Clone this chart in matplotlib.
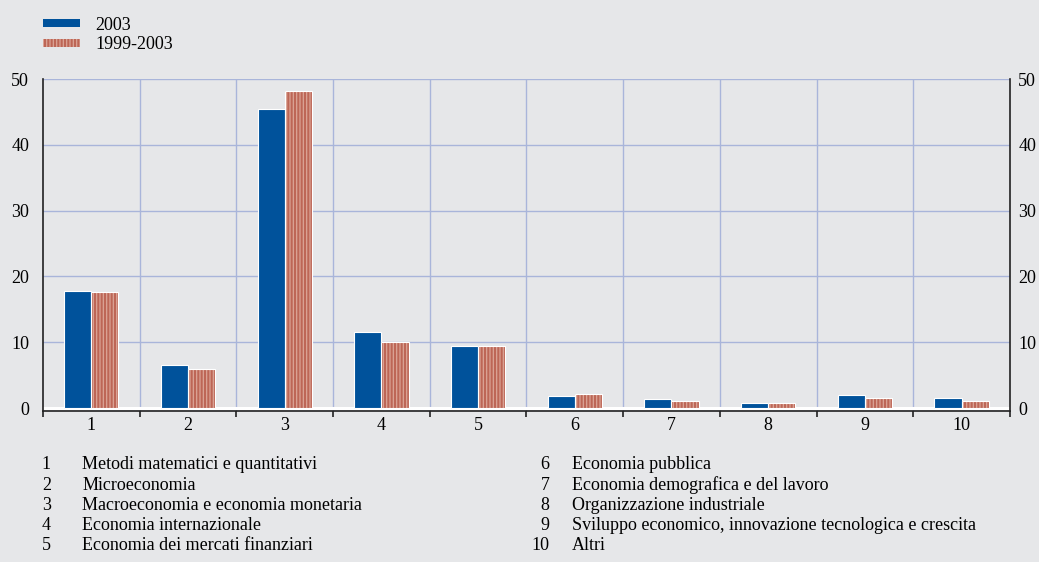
import numpy as np
import matplotlib.pyplot as plt
from matplotlib.patches import Patch

categories = [1, 2, 3, 4, 5, 6, 7, 8, 9, 10]
values_2003 = [17.8, 6.5, 45.4, 11.5, 9.4, 1.8, 1.4, 0.7, 2.0, 1.5]
values_9903 = [17.6, 5.9, 48.2, 10.0, 9.5, 2.1, 1.1, 0.8, 1.6, 1.1]
field_names = [
    "Metodi matematici e quantitativi",
    "Microeconomia",
    "Macroeconomia e economia monetaria",
    "Economia internazionale",
    "Economia dei mercati finanziari",
    "Economia pubblica",
    "Economia demografica e del lavoro",
    "Organizzazione industriale",
    "Sviluppo economico, innovazione tecnologica e crescita",
    "Altri",
]
series_names = ["2003", "1999-2003"]
y_ticks = [0, 10, 20, 30, 40, 50]

bg = "#e6e7e9"
blue = "#00529b"
stripe_light = "#dba496"
stripe_dark = "#bd6656"
grid_col = "#a9b5da"

plt.rcParams["font.family"] = ["Liberation Serif", "DejaVu Serif"]
plt.rcParams["hatch.linewidth"] = 1.5
fs = 13
hatch = "|||||"

fig = plt.figure(figsize=(10.39, 5.62), dpi=100, facecolor=bg)
ax = fig.add_axes([0.0414, 0.2687, 0.9306, 0.5907], facecolor=bg)

x = np.arange(len(categories))
w = 0.28
ax.bar(x - w / 2, values_2003, w, color=blue, edgecolor="white", linewidth=0.8, zorder=3)
ax.bar(x + w / 2, values_9903, w, color=stripe_light, edgecolor=stripe_dark,
       hatch=hatch, linewidth=0, zorder=3)
ax.bar(x + w / 2, values_9903, w, fill=False, edgecolor="white", linewidth=0.8, zorder=4)

ax.set_xlim(-0.5, len(categories) - 0.5)
ax.set_ylim(-0.45, 50)

# griglia
for yv in y_ticks[1:]:
    ax.axhline(yv, color=grid_col, lw=1, zorder=1)
ax.axhline(0, color="white", lw=2.2, zorder=2)
for xb in np.arange(0.5, len(categories) - 0.5, 1):
    ax.axvline(xb, color=grid_col, lw=1, zorder=1)

ax.spines["top"].set_visible(False)
for s in ["left", "right", "bottom"]:
    ax.spines[s].set_color("#222222")
    ax.spines[s].set_linewidth(1.2)

ax.set_xticks(x)
ax.set_xticklabels([str(c) for c in categories], fontsize=fs)
ax.set_xticks(np.arange(-0.5, len(categories), 1), minor=True)
ax.tick_params(axis="x", which="major", length=0, pad=4)
ax.tick_params(axis="x", which="minor", length=4, width=1.2, color="#222222")

ax.set_yticks(y_ticks)
ax.set_yticklabels([str(v) for v in y_ticks], fontsize=fs)
ax.tick_params(axis="y", length=0, pad=10)

# etichette a destra
ax2 = ax.twinx()
ax2.set_ylim(ax.get_ylim())
ax2.set_yticks(y_ticks)
ax2.set_yticklabels([str(v) for v in y_ticks], fontsize=fs)
ax2.tick_params(axis="y", length=0, pad=6)
for s in ax2.spines.values():
    s.set_visible(False)

handles = [Patch(facecolor=blue, edgecolor="none"),
           Patch(facecolor=stripe_light, edgecolor=stripe_dark, hatch=hatch, linewidth=0)]
fig.legend(handles, series_names, loc="upper left", bbox_to_anchor=(0.0414, 0.9705),
           frameon=False, fontsize=fs, handlelength=2.05, handleheight=0.33,
           labelspacing=0.15, handletextpad=0.83, borderpad=0, borderaxespad=0)

# legenda in basso
rows = 5
for i, name in enumerate(field_names):
    col = i // rows
    r = i % rows
    yy = 0.1726 - r * 0.0356
    if col == 0:
        fig.text(0.049, yy, str(categories[i]), fontsize=fs, ha="right", va="center")
        fig.text(0.079, yy, name, fontsize=fs, ha="left", va="center")
    else:
        fig.text(0.529, yy, str(categories[i]), fontsize=fs, ha="right", va="center")
        fig.text(0.5505, yy, name, fontsize=fs, ha="left", va="center")

fig.savefig("out.png", dpi=100, facecolor=bg)
